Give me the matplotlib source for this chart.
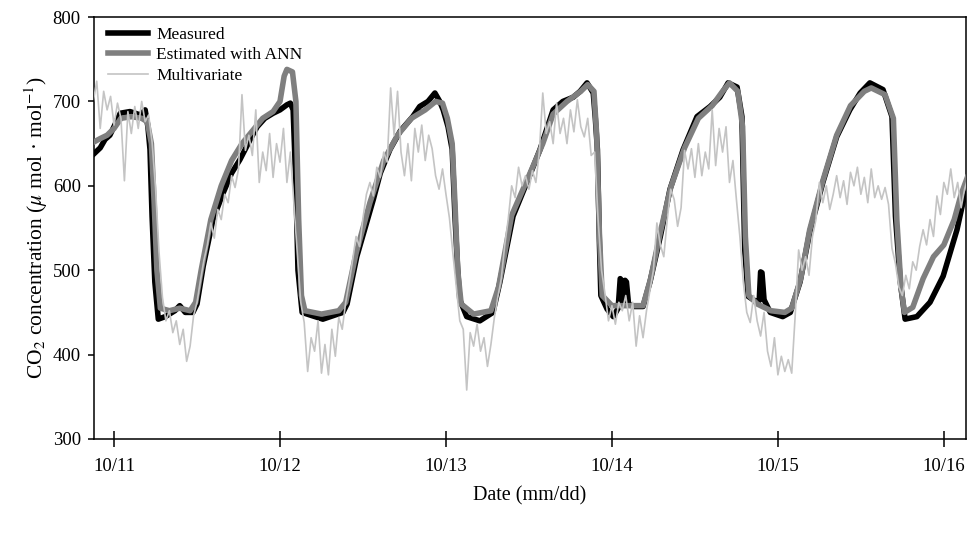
import numpy as np
import matplotlib
matplotlib.use("Agg")
import matplotlib.pyplot as plt

plt.rcParams['font.family'] = ['Liberation Serif', 'DejaVu Serif']
plt.rcParams['mathtext.fontset'] = 'stix'

# x ticks: days (hours since 10/11 00:00)
tick_hours = [0, 24, 48, 72, 96, 120]
tick_labels = ['10/11', '10/12', '10/13', '10/14', '10/15', '10/16']

# Measured CO2 (hours, ppm)
measured_t = [-2.9, -2.0, -1.3, -0.6, 0.1, 0.9, 2.3, 3.8, 4.5, 4.9, 5.2, 5.5, 5.9, 6.4, 7.4, 8.8,
              9.5, 10.3, 11.4, 12.0, 12.9, 14.3, 15.8, 17.0, 18.2, 19.7, 20.7, 21.8, 23.0, 24.0,
              25.0, 25.5, 25.9, 26.3, 26.6, 27.2, 28.3, 30.2, 32.0, 33.1, 33.7, 35.1, 36.3, 37.5,
              38.5, 39.9, 41.4, 43.2, 44.2, 45.4, 46.4, 47.1, 47.6, 48.3, 48.9, 49.3, 49.7, 50.0,
              51.0, 52.9, 54.8, 55.8, 57.7, 59.7, 61.6, 63.5, 64.9, 66.4, 67.4, 68.4, 69.3, 69.6,
              69.9, 70.2, 70.4, 71.3, 72.2, 72.9, 73.2, 73.4, 73.6, 73.9, 74.1, 74.4, 75.1, 76.5,
              77.5, 79.0, 80.4, 82.3, 84.3, 86.2, 87.6, 88.8, 90.1, 90.8, 91.2, 91.7, 93.0, 93.3,
              93.5, 93.7, 94.0, 94.9, 96.7, 97.8, 99.2, 100.6, 102.5, 104.5, 106.4, 107.9, 109.3,
              111.2, 112.5, 113.0, 113.7, 114.4, 116.1, 118.0, 119.9, 121.9, 123.4]
measured_v = [638, 645, 655, 660, 672, 686, 688, 684, 690, 670, 643, 564, 486, 442, 445, 452,
              458, 450, 450, 460, 505, 560, 592, 615, 631, 655, 670, 680, 686, 690,
              696, 698, 690, 600, 500, 450, 447, 442, 447, 450, 460, 516, 550, 584,
              615, 643, 665, 682, 694, 700, 710, 700, 690, 670, 643, 564, 500, 465,
              445, 440, 450, 486, 564, 604, 643, 690, 700, 705, 712, 722, 710, 680,
              643, 530, 470, 454, 445, 455, 490, 488, 460, 488, 486, 460, 457, 457,
              486, 540, 596, 643, 682, 694, 705, 722, 717, 682, 525, 469, 462, 464,
              498, 497, 465, 450, 445, 450, 486, 545, 604, 658, 690, 710, 722,
              714, 682, 564, 486, 442, 445, 462, 493, 548, 604]

# Estimated with ANN
ann_t = [-2.9, -2.0, -1.0, 0.0, 1.0, 2.5, 4.0, 4.8, 5.4, 5.8, 6.2, 6.7, 8.0, 9.5, 11.0, 11.8,
         12.6, 14.0, 15.5, 17.0, 18.5, 20.0, 21.5, 23.0, 24.0, 24.6, 25.0, 25.8, 26.3, 26.7,
         27.1, 27.6, 30.0, 32.5, 33.5, 35.0, 37.0, 39.0, 41.0, 43.0, 45.0, 46.5, 47.5, 48.2,
         48.9, 49.3, 49.7, 50.2, 52.0, 54.5, 55.6, 57.5, 60.0, 62.0, 63.5, 65.5, 67.5, 68.5,
         69.4, 69.8, 70.2, 70.6, 72.0, 74.0, 76.5, 77.6, 79.0, 80.5, 82.5, 84.5, 86.5, 88.0,
         89.0, 90.2, 90.9, 91.3, 91.8, 93.0, 95.0, 97.0, 98.0, 99.3, 100.6, 102.5, 104.5, 106.5,
         108.5, 109.5, 111.5, 112.7, 113.2, 113.8, 114.3, 115.5, 117.0, 118.5, 120.0, 121.5,
         122.5, 123.4]
ann_v = [652, 656, 660, 668, 680, 682, 680, 676, 650, 580, 500, 455, 452, 455, 452, 462,
         500, 560, 600, 630, 650, 665, 680, 688, 700, 730, 738, 735, 700, 560,
         470, 452, 448, 452, 462, 520, 580, 630, 660, 680, 690, 700, 698, 680,
         650, 580, 500, 460, 448, 452, 480, 565, 612, 650, 685, 700, 712, 720,
         712, 660, 540, 470, 458, 458, 458, 490, 545, 598, 645, 680, 695, 712,
         722, 712, 670, 540, 470, 460, 452, 450, 455, 490, 548, 606, 660, 695,
         712, 716, 708, 680, 560, 480, 450, 456, 490, 516, 530, 560,
         590, 610]

# Multivariate model, half-hourly from -3 h
multi_v = [700, 724, 668, 712, 690, 706, 672, 698, 680, 606, 688, 662,
           694, 668, 700, 676, 684, 652, 598, 522, 468, 440, 452, 426,
           440, 412, 430, 392, 410, 446, 462, 488, 512, 530, 556, 538,
           572, 560, 590, 580, 612, 598, 620, 708, 642, 660, 636, 690,
           604, 640, 618, 662, 610, 650, 628, 668, 604, 640, 580, 520,
           462, 438, 380, 420, 404, 440, 378, 412, 376, 430, 398, 444,
           430, 462, 486, 512, 540, 528, 562, 590, 604, 588, 622, 610,
           640, 628, 716, 660, 712, 640, 612, 650, 606, 668, 640, 672,
           630, 660, 644, 612, 596, 620, 590, 562, 520, 480, 440, 430,
           358, 426, 410, 436, 404, 420, 386, 412, 444, 468, 490, 530,
           560, 600, 586, 622, 600, 612, 596, 618, 604, 640, 710, 662,
           676, 650, 698, 662, 680, 650, 690, 664, 702, 670, 658, 680,
           636, 640, 560, 500, 472, 440, 458, 436, 462, 452, 470, 440,
           462, 410, 446, 420, 452, 476, 500, 556, 530, 516, 560, 596,
           584, 552, 574, 642, 620, 644, 610, 650, 612, 640, 620, 690,
           624, 668, 640, 670, 604, 630, 584, 540, 486, 450, 438, 470,
           440, 422, 450, 404, 386, 420, 376, 398, 380, 394, 378, 446,
           524, 500, 516, 494, 540, 560, 604, 580, 600, 572, 590, 612,
           586, 606, 578, 616, 600, 622, 590, 610, 580, 620, 586, 600,
           584, 598, 578, 526, 508, 480, 470, 494, 478, 510, 500, 528,
           548, 530, 560, 540, 588, 566, 604, 590, 620, 586, 604, 574,
           596, 610]
multi_t = -3 + 0.5 * np.arange(len(multi_v))

fig = plt.figure(figsize=(9.79, 5.33), dpi=100)
ax = fig.add_axes([0.096, 0.1764, 0.8907, 0.7916])

ax.plot(measured_t, measured_v, color='black', lw=4.0, label='Measured', zorder=2)
ax.plot(ann_t, ann_v, color='#7f7f7f', lw=4.0, label='Estimated with ANN', zorder=3)
ax.plot(multi_t, multi_v, color='#c4c4c4', lw=1.2, label='Multivariate', zorder=4)

ax.set_xlim(-2.9, 123.2)
ax.set_ylim(300, 800)
ax.set_yticks([300, 400, 500, 600, 700, 800])
ax.set_xticks(tick_hours)
ax.set_xticklabels(tick_labels)

for sp in ax.spines.values():
    sp.set_linewidth(1.1)
ax.tick_params(axis='x', direction='inout', length=11, width=1.1, labelsize=13.5, pad=8)
ax.tick_params(axis='y', direction='out', length=4.5, width=1.1, labelsize=13.5, pad=5)

ax.set_xlabel('Date (mm/dd)', fontsize=14.5, labelpad=8)
ax.set_ylabel(r'CO$_2$ concentration ($\mu$ mol · mol$^{-1}$)', fontsize=15.5, labelpad=2)

leg = ax.legend(loc='upper left', frameon=False, fontsize=12.5, handlelength=2.3,
                handletextpad=0.5, labelspacing=0.25, borderaxespad=0.4,
                bbox_to_anchor=(0.0, 1.01))

fig.savefig('out.png', dpi=100)
